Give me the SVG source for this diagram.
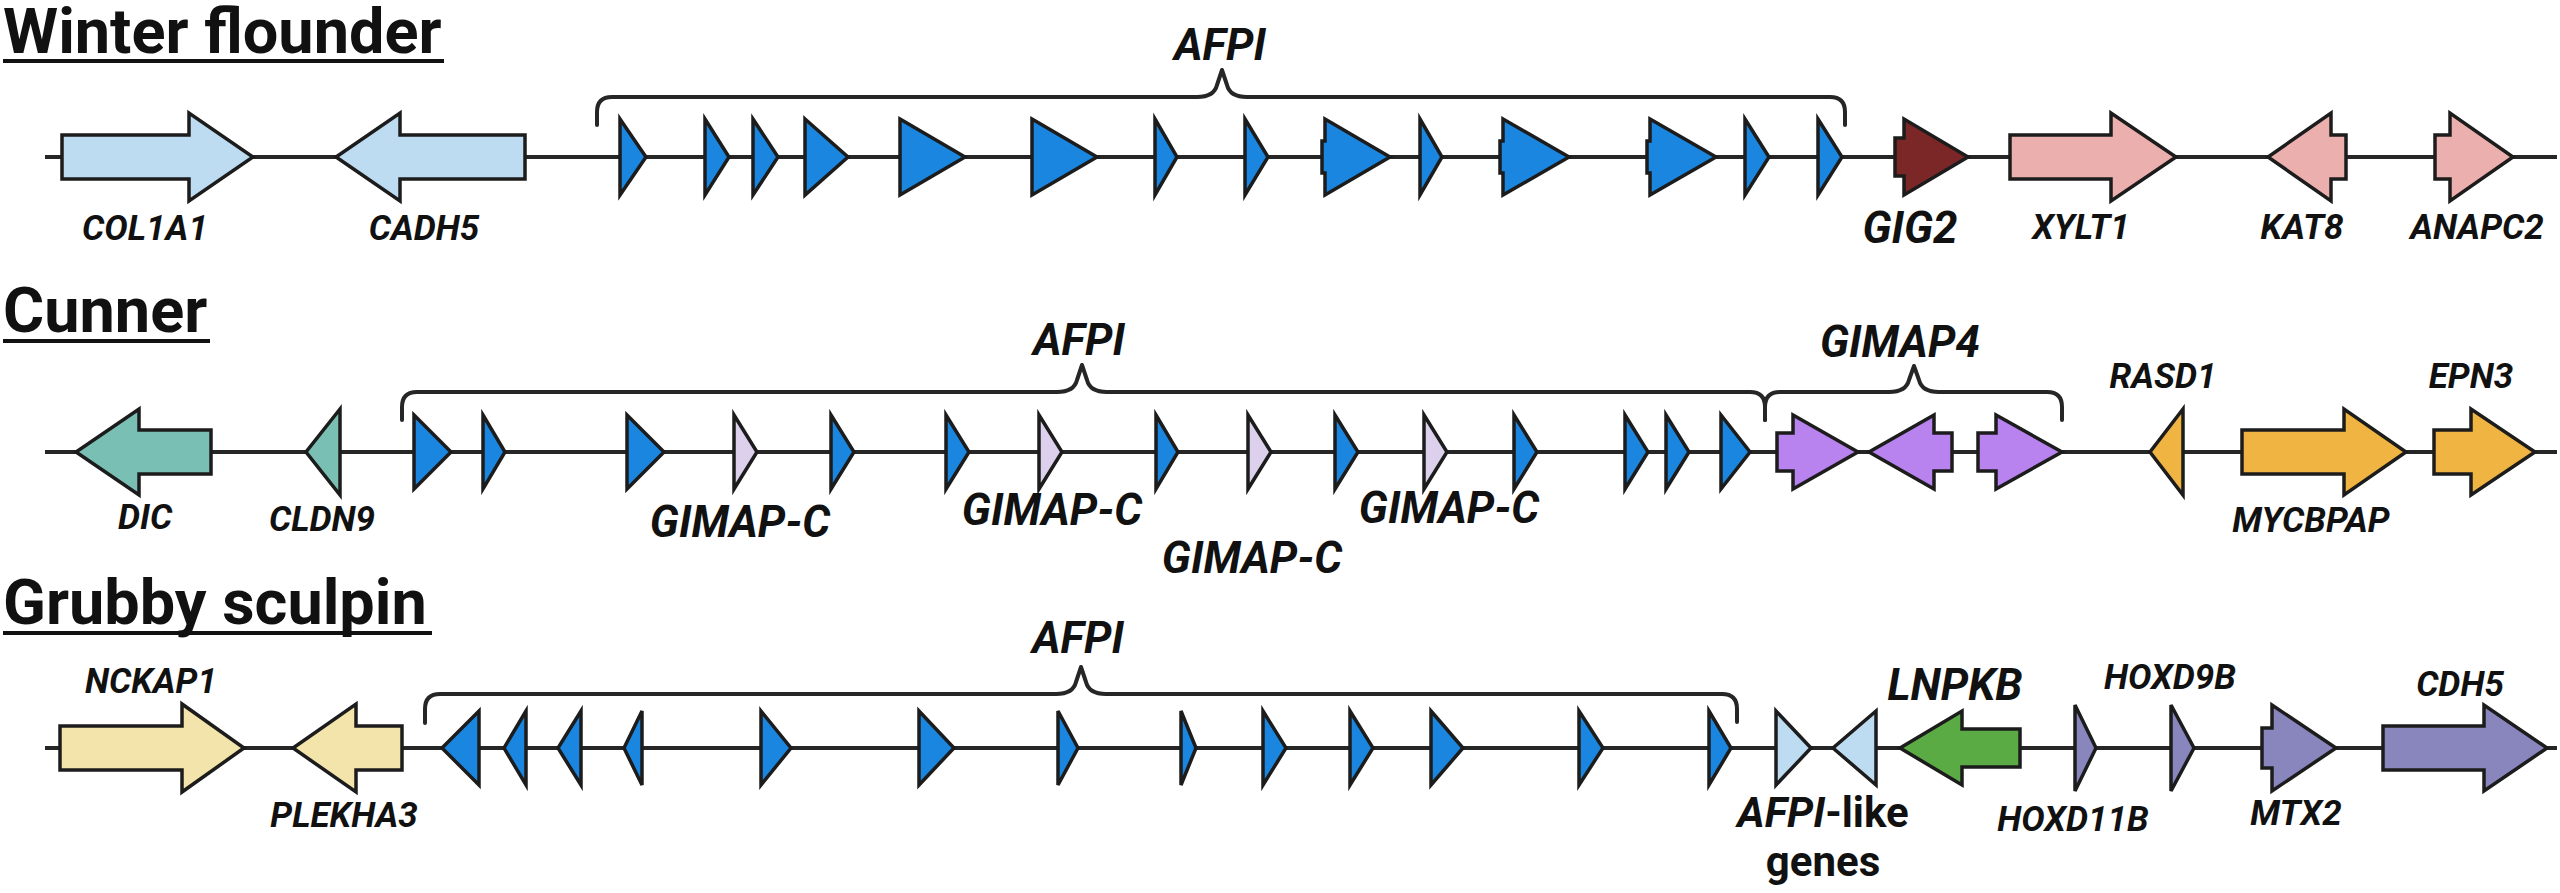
<svg xmlns="http://www.w3.org/2000/svg" width="2560" height="893" viewBox="0 0 2560 893">
<style>
.bg{fill:#ffffff}
.line{stroke:#262626;stroke-width:4;fill:none}
.brace{stroke:#262626;stroke-width:4;fill:none;stroke-linejoin:round;stroke-linecap:round}
.ul{fill:#111111}
.s{stroke:#1c1c1c;stroke-width:3.5;stroke-linejoin:miter}
.afp{fill:#1a86df}
.lb{fill:#bddcf2}
.red{fill:#7b2727}
.pink{fill:#ebb0ae}
.teal{fill:#79bfb4}
.lav{fill:#ddd0ec}
.pur{fill:#b883ee}
.org{fill:#f0b443}
.crm{fill:#f2e4aa}
.grn{fill:#5bab45}
.sla{fill:#8985bd}
text{fill:#111111;font-family:Roboto,"Liberation Sans",sans-serif;font-weight:bold}
.t{font-size:63px}
.g{font-size:35px;font-style:italic;text-anchor:middle}
.G{font-size:44px;font-style:italic;text-anchor:middle}
.n{font-size:42px;text-anchor:middle}
</style>
<rect class="bg" x="0" y="0" width="2560" height="893"/>

<g id="titles">
<text class="t" x="3" y="53">Winter flounder</text>
<rect class="ul" x="3" y="59" width="441" height="4"/>
<text class="t" x="3" y="332">Cunner</text>
<rect class="ul" x="3" y="339" width="207" height="4"/>
<text class="t" x="3" y="624">Grubby sculpin</text>
<rect class="ul" x="3" y="631" width="429" height="4"/>
</g>

<g id="connectors">
<line class="line" x1="45" y1="157" x2="2557" y2="157"/>
<line class="line" x1="45" y1="452" x2="2557" y2="452"/>
<line class="line" x1="45" y1="748" x2="2557" y2="748"/>
<path class="brace" d="M597,125 V112 Q597,97 612,97 H1197 Q1214,97 1217,85 L1222,70 L1227,85 Q1230,97 1247,97 H1830 Q1845,97 1845,112 V125"/>
<path class="brace" d="M402,420 V407 Q402,392 417,392 H1057 Q1074,392 1077,380 L1082,365 L1087,380 Q1090,392 1107,392 H1750 Q1765,392 1765,407 V420"/>
<path class="brace" d="M1765,420 V407 Q1765,392 1780,392 H1889 Q1906,392 1909,380 L1914,366 L1919,380 Q1922,392 1939,392 H2047 Q2062,392 2062,407 V420"/>
<path class="brace" d="M425,723 V709 Q425,694 440,694 H1056 Q1073,694 1076,682 L1081,667 L1086,682 Q1089,694 1106,694 H1722 Q1737,694 1737,709 V722"/>
</g>

<!-- Row 1: Winter flounder -->
<g id="COL1A1"><path class="s lb" d="M62,135 H189 V113 L253,157 L189,201 V179 H62 Z"/><text class="g" x="145" y="240">COL1A1</text></g>
<g id="CADH5"><path class="s lb" d="M525,135 H400 V113 L336,157 L400,201 V179 H525 Z"/><text class="g" x="424" y="240">CADH5</text></g>
<g id="AFPI-wf">
<text class="G" x="1220" y="60">AFPI</text>
<path class="s afp" d="M620,119 L646,157 L620,195 Z"/>
<path class="s afp" d="M705,119 L729,157 L705,195 Z"/>
<path class="s afp" d="M753,119 L778,157 L753,195 Z"/>
<path class="s afp" d="M805,119 L848,157 L805,195 Z"/>
<path class="s afp" d="M900,119 L965,157 L900,195 Z"/>
<path class="s afp" d="M1032,119 L1097,157 L1032,195 Z"/>
<path class="s afp" d="M1155,119 L1177,157 L1155,195 Z"/>
<path class="s afp" d="M1245,119 L1268,157 L1245,195 Z"/>
<path class="s afp" d="M1322,141 H1325 V119 L1390,157 L1325,195 V173 H1322 Z"/>
<path class="s afp" d="M1420,119 L1442,157 L1420,195 Z"/>
<path class="s afp" d="M1500,141 H1503 V119 L1569,157 L1503,195 V173 H1500 Z"/>
<path class="s afp" d="M1647,141 H1650 V119 L1716,157 L1650,195 V173 H1647 Z"/>
<path class="s afp" d="M1745,119 L1769,157 L1745,195 Z"/>
<path class="s afp" d="M1818,119 L1842,157 L1818,195 Z"/>
</g>
<g id="GIG2"><path class="s red" d="M1895,138 H1904 V119 L1968,157 L1904,195 V176 H1895 Z"/><text class="G" x="1910" y="243">GIG2</text></g>
<g id="XYLT1"><path class="s pink" d="M2010,135 H2111 V113 L2176,157 L2111,201 V179 H2010 Z"/><text class="g" x="2081" y="239">XYLT1</text></g>
<g id="KAT8"><path class="s pink" d="M2346,135 H2331 V113 L2268,157 L2331,201 V179 H2346 Z"/><text class="g" x="2302" y="239">KAT8</text></g>
<g id="ANAPC2"><path class="s pink" d="M2435,135 H2450 V113 L2513,157 L2450,201 V179 H2435 Z"/><text class="g" x="2477" y="239">ANAPC2</text></g>

<!-- Row 2: Cunner -->
<g id="DIC"><path class="s teal" d="M211,430 H139 V409 L76,452 L139,495 V474 H211 Z"/><text class="g" x="145" y="529">DIC</text></g>
<g id="CLDN9"><path class="s teal" d="M340,409 L306,452 L340,495 Z"/><text class="g" x="322" y="531">CLDN9</text></g>
<g id="AFPI-cu">
<text class="G" x="1079" y="355">AFPI</text>
<path class="s afp" d="M414,415 L451,452 L414,489 Z"/>
<path class="s afp" d="M483,415 L505,452 L483,489 Z"/>
<path class="s afp" d="M627,415 L664,452 L627,489 Z"/>
<path class="s afp" d="M831,415 L854,452 L831,489 Z"/>
<path class="s afp" d="M946,415 L969,452 L946,489 Z"/>
<path class="s afp" d="M1156,415 L1178,452 L1156,489 Z"/>
<path class="s afp" d="M1335,415 L1358,452 L1335,489 Z"/>
<path class="s afp" d="M1514,415 L1537,452 L1514,489 Z"/>
<path class="s afp" d="M1625,415 L1648,452 L1625,489 Z"/>
<path class="s afp" d="M1666,415 L1689,452 L1666,489 Z"/>
<path class="s afp" d="M1721,415 L1750,452 L1721,489 Z"/>
</g>
<g id="GIMAP-C-1"><path class="s lav" d="M734,415 L757,452 L734,489 Z"/><text class="G" x="740" y="537">GIMAP-C</text></g>
<g id="GIMAP-C-2"><path class="s lav" d="M1039,415 L1062,452 L1039,489 Z"/><text class="G" x="1052" y="525">GIMAP-C</text></g>
<g id="GIMAP-C-3"><path class="s lav" d="M1248,415 L1271,452 L1248,489 Z"/><text class="G" x="1252" y="573">GIMAP-C</text></g>
<g id="GIMAP-C-4"><path class="s lav" d="M1424,415 L1447,452 L1424,489 Z"/><text class="G" x="1449" y="523">GIMAP-C</text></g>
<g id="GIMAP4">
<text class="G" x="1900" y="357">GIMAP4</text>
<path class="s pur" d="M1777,433 H1793 V415 L1858,452 L1793,489 V471 H1777 Z"/>
<path class="s pur" d="M1952,433 H1934 V415 L1869,452 L1934,489 V471 H1952 Z"/>
<path class="s pur" d="M1978,433 H1996 V415 L2062,452 L1996,489 V471 H1978 Z"/>
</g>
<g id="RASD1"><path class="s org" d="M2183,409 L2150,452 L2183,495 Z"/><text class="g" x="2163" y="388">RASD1</text></g>
<g id="MYCBPAP"><path class="s org" d="M2242,430 H2344 V409 L2406,452 L2344,495 V474 H2242 Z"/><text class="g" x="2311" y="532">MYCBPAP</text></g>
<g id="EPN3"><path class="s org" d="M2434,430 H2471 V409 L2535,452 L2471,495 V474 H2434 Z"/><text class="g" x="2471" y="388">EPN3</text></g>

<!-- Row 3: Grubby sculpin -->
<g id="NCKAP1"><path class="s crm" d="M60,726 H182 V704 L244,748 L182,792 V770 H60 Z"/><text class="g" x="151" y="693">NCKAP1</text></g>
<g id="PLEKHA3"><path class="s crm" d="M402,726 H356 V704 L293,748 L356,792 V770 H402 Z"/><text class="g" x="344" y="827">PLEKHA3</text></g>
<g id="AFPI-gs">
<text class="G" x="1078" y="653">AFPI</text>
<path class="s afp" d="M479,711 L442,748 L479,785 Z"/>
<path class="s afp" d="M526,711 L504,748 L526,785 Z"/>
<path class="s afp" d="M581,711 L558,748 L581,785 Z"/>
<path class="s afp" d="M642,711 L624,748 L642,785 Z"/>
<path class="s afp" d="M761,711 L791,748 L761,785 Z"/>
<path class="s afp" d="M919,711 L954,748 L919,785 Z"/>
<path class="s afp" d="M1058,711 L1078,748 L1058,785 Z"/>
<path class="s afp" d="M1181,711 L1196,748 L1181,785 Z"/>
<path class="s afp" d="M1263,711 L1286,748 L1263,785 Z"/>
<path class="s afp" d="M1350,711 L1373,748 L1350,785 Z"/>
<path class="s afp" d="M1431,711 L1463,748 L1431,785 Z"/>
<path class="s afp" d="M1579,711 L1603,748 L1579,785 Z"/>
<path class="s afp" d="M1709,711 L1731,748 L1709,785 Z"/>
</g>
<g id="AFPI-like">
<path class="s lb" d="M1776,711 L1811,748 L1776,785 Z"/>
<path class="s lb" d="M1876,711 L1833,748 L1876,785 Z"/>
<text class="n" x="1823" y="827"><tspan font-style="italic">AFPI</tspan>-like</text>
<text class="n" x="1823" y="876">genes</text>
</g>
<g id="LNPKB"><path class="s grn" d="M2020,729 H1962 V711 L1900,748 L1962,785 V767 H2020 Z"/><text class="G" x="1955" y="700">LNPKB</text></g>
<g id="HOXD11B"><path class="s sla" d="M2075,705 L2096,748 L2075,791 Z"/><text class="g" x="2073" y="831">HOXD11B</text></g>
<g id="HOXD9B"><path class="s sla" d="M2171,705 L2194,748 L2171,791 Z"/><text class="g" x="2170" y="689">HOXD9B</text></g>
<g id="MTX2"><path class="s sla" d="M2262,728 H2272 V705 L2336,748 L2272,791 V768 H2262 Z"/><text class="g" x="2296" y="825">MTX2</text></g>
<g id="CDH5"><path class="s sla" d="M2383,726 H2484 V705 L2547,748 L2484,791 V770 H2383 Z"/><text class="g" x="2460" y="696">CDH5</text></g>
</svg>
